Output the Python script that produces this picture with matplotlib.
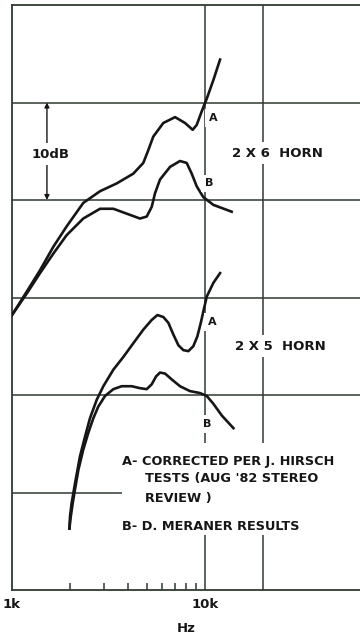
import matplotlib
matplotlib.use("Agg")
import matplotlib.pyplot as plt
from matplotlib.patches import Rectangle

# 2 x 6 horn, curve A (corrected per Hirsch) and curve B (Meraner)
f_6a = [1000, 1192, 1397, 1637, 1920, 2340, 2857, 3486, 4248, 4787, 5080, 5393, 6080,
        6993, 7877, 8630, 9055, 9614, 10211, 11043, 11963]
db_6a = [28.2, 30.6, 32.8, 35.2, 37.3, 39.7, 40.9, 41.7, 42.7, 43.8, 45.1, 46.5, 47.9,
         48.5, 47.9, 47.2, 47.7, 49.1, 50.4, 52.3, 54.4]
f_6b = [1000, 1192, 1397, 1637, 1920, 2340, 2857, 3350, 3927, 4602, 4987, 5295, 5508,
        5844, 6590, 7420, 8035, 8531, 9055, 9792, 11043, 13740]
db_6b = [28.2, 30.4, 32.5, 34.5, 36.4, 38.1, 39.1, 39.1, 38.6, 38.1, 38.3, 39.3, 40.7,
         42.1, 43.4, 44.0, 43.8, 42.7, 41.4, 40.3, 39.5, 38.8]

# 2 x 5 horn
f_5a = [1983, 1997, 2036, 2119, 2249, 2387, 2533, 2746, 2973, 3350, 3773, 4248, 4787,
        5295, 5665, 6080, 6458, 6854, 7278, 7724, 8195, 8694, 9120, 9506, 9886, 10211,
        11043, 11963]
db_5a = [6.3, 7.5, 8.9, 10.9, 13.7, 15.7, 17.6, 19.5, 20.9, 22.6, 23.9, 25.3, 26.7,
         27.7, 28.2, 28.0, 27.4, 26.2, 25.1, 24.6, 24.5, 25.0, 26.0, 27.4, 28.9, 30.1,
         31.5, 32.5]
f_5b = [1983, 2015, 2063, 2119, 2206, 2340, 2483, 2636, 2797, 3033, 3350, 3699, 4170,
        4602, 4987, 5295, 5573, 5844, 6206, 6719, 7420, 8354, 9413, 10211, 11043, 12211,
        14030]
db_5b = [6.3, 7.5, 8.9, 10.3, 12.3, 14.4, 16.1, 17.6, 18.8, 19.9, 20.6, 20.9, 20.9,
         20.7, 20.6, 21.1, 21.9, 22.3, 22.2, 21.6, 20.9, 20.4, 20.2, 19.9, 19.1, 17.9,
         16.6]

grid_db = [10, 20, 30, 40, 50]
grid_hz = [10000, 20000]

grid_col = '#2f3a30'
ink = '#161616'

fig = plt.figure(figsize=(3.6, 6.39), dpi=100)
ax = fig.add_axes([12 / 360, 49 / 639, 348 / 360, 585 / 639])
ax.set_xscale('log')
ax.set_xlim(1000, 63500)
ax.set_ylim(0, 60)

for d in grid_db:
    if d == 10:
        ax.axhline(d, xmax=110 / 348, color=grid_col, lw=1.1, zorder=1)
    else:
        ax.axhline(d, color=grid_col, lw=1.1, zorder=1)
for f in grid_hz:
    ax.axvline(f, color=grid_col, lw=1.1, zorder=1)

for fx, dy in [(f_6a, db_6a), (f_6b, db_6b), (f_5a, db_5a), (f_5b, db_5b)]:
    ax.plot(fx, dy, color=ink, lw=1.9, zorder=3, solid_joinstyle='round')

ax.spines['right'].set_visible(False)
for s in ['left', 'top', 'bottom']:
    ax.spines[s].set_color(grid_col)
    ax.spines[s].set_linewidth(1.3)

ax.set_yticks([])
ax.set_xticks([1000, 10000])
ax.set_xticklabels(['1k', '10k'], fontweight='bold')
ax.set_xticks([2000, 3000, 4000, 5000, 6000, 7000, 8000, 9000], minor=True)
ax.set_xticklabels([], minor=True)
ax.tick_params(axis='x', which='major', length=0, pad=6, labelsize=9.5, colors=ink)
ax.tick_params(axis='x', which='minor', direction='in', length=5, width=1.1, color=grid_col)
ax.set_xlabel('Hz', fontsize=9.5, fontweight='bold', color=ink, labelpad=8)

white = dict(boxstyle='square,pad=0.35', fc='white', ec='none')
txt = dict(fontsize=9.5, fontweight='bold', color=ink, zorder=4)
lab = dict(fontsize=8, fontweight='bold', color=ink, zorder=4, ha='center', va='center',
           bbox=white)

# 10 dB scale arrow
ax.annotate('', xy=(1517, 50), xytext=(1517, 40),
            arrowprops=dict(arrowstyle='<|-|>', color=ink, lw=1.0,
                            mutation_scale=7, shrinkA=0, shrinkB=0), zorder=2)
ax.text(1592, 44.7, '10dB', ha='center', va='center', bbox=white, **txt)

ax.text(10990, 48.4, 'A', **lab)
ax.text(10496, 41.7, 'B', **lab)
ax.text(23600, 44.8, '2 X 6  HORN', ha='center', va='center', bbox=white, **txt)

ax.text(10860, 27.5, 'A', **lab)
ax.text(10240, 17.0, 'B', **lab)
ax.text(24500, 25.0, '2 X 5  HORN', ha='center', va='center', bbox=white, **txt)

# mask behind the notes
ax.add_patch(Rectangle((110 / 348, 55 / 585), 1, 92 / 585, transform=ax.transAxes,
                       fc='white', ec='none', zorder=2))
note = dict(fontsize=9.3, fontweight='bold', color=ink, zorder=4, va='center', ha='left')
ax.text(3715, 13.2, 'A- CORRECTED PER J. HIRSCH', **note)
ax.text(4886, 11.4, "TESTS (AUG '82 STEREO", **note)
ax.text(4886, 9.4, 'REVIEW )', **note)
ax.text(3715, 6.5, 'B- D. MERANER RESULTS', **note)

fig.savefig('out.png', dpi=100)
